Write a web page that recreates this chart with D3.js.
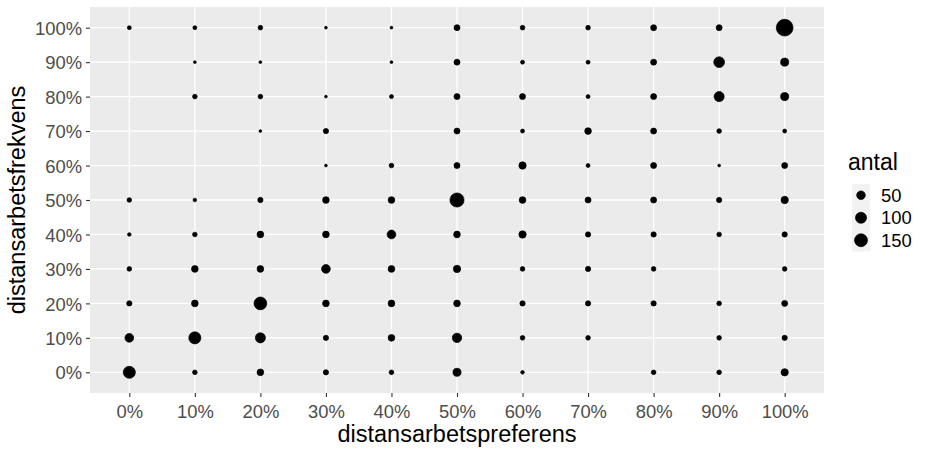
<!DOCTYPE html>
<html>
<head>
<meta charset="utf-8">
<script src="https://cdn.jsdelivr.net/npm/d3@7"></script>
<style>
  body { margin: 0; background: #fff; }
  text { font-family: "Liberation Sans", Arial, sans-serif; }
</style>
</head>
<body>
<div id="viz"></div>
<script>
// Categories (both axes are discrete factors)
const preferens = ['0%', '10%', '20%', '30%', '40%', '50%', '60%', '70%', '80%', '90%', '100%'];
const frekvens = ['0%', '10%', '20%', '30%', '40%', '50%', '60%', '70%', '80%', '90%', '100%'];

// antal per frekvens row (top row = 100%), one value per preferens column; 0 = no point
const antalRows = ['100%', '90%', '80%', '70%', '60%', '50%', '40%', '30%', '20%', '10%', '0%'];
const antal = [
  [3, 3, 6, 1, 1, 16, 6, 6, 16, 16, 285],
  [0, 1, 1, 0, 1, 16, 3, 3, 16, 92, 41],
  [0, 6, 6, 1, 3, 16, 16, 3, 16, 77, 41],
  [0, 0, 1, 10, 0, 16, 3, 23, 16, 6, 3],
  [0, 0, 0, 1, 6, 16, 31, 3, 16, 1, 16],
  [6, 2, 10, 23, 23, 186, 23, 16, 16, 10, 31],
  [2, 6, 23, 23, 52, 23, 31, 10, 10, 6, 10],
  [6, 23, 23, 52, 23, 31, 6, 10, 6, 0, 6],
  [10, 23, 145, 23, 23, 23, 10, 10, 10, 6, 16],
  [52, 126, 77, 10, 23, 64, 6, 6, 0, 6, 10],
  [126, 6, 23, 10, 6, 41, 2, 0, 6, 6, 31]
];

const legendBreaks = [50, 100, 150];

const width = 930;
const height = 454;
const panel = {left: 90, right: 824, top: 7, bottom: 393};

// flatten to points
const points = [];
antal.forEach((row, i) => {
  row.forEach((n, j) => {
    if (n > 0) points.push({frekvens: antalRows[i], preferens: preferens[j], antal: n});
  });
});

// Scales
const x = d3.scalePoint()
  .domain(preferens)
  .range([panel.left, panel.right])
  .padding(0.6);
const y = d3.scalePoint()
  .domain(frekvens)
  .range([panel.bottom, panel.top])
  .padding(0.6);

// ggplot-like area scale: radius linear in sqrt of rescaled value
const extent = d3.extent(points, d => d.antal);
const rescale = d3.scaleLinear().domain(extent).range([0, 1]);
const radius = d3.scaleLinear().domain([0, 1]).range([1.4, 8.4]);
const r = v => radius(Math.sqrt(Math.max(0, rescale(v))));

const svg = d3.select('#viz')
  .append('svg')
    .attr('width', width)
    .attr('height', height)
    .attr('viewBox', `0 0 ${width} ${height}`);

// Panel background
svg.append('rect')
  .attr('x', panel.left)
  .attr('y', panel.top)
  .attr('width', panel.right - panel.left)
  .attr('height', panel.bottom - panel.top)
  .attr('fill', '#EBEBEB');

// Grid lines
svg.append('g')
    .attr('class', 'grid-x')
  .selectAll('line')
  .data(preferens)
  .join('line')
    .attr('x1', d => x(d))
    .attr('x2', d => x(d))
    .attr('y1', panel.top)
    .attr('y2', panel.bottom)
    .attr('stroke', '#fff')
    .attr('stroke-width', 1.3);

svg.append('g')
    .attr('class', 'grid-y')
  .selectAll('line')
  .data(frekvens)
  .join('line')
    .attr('x1', panel.left)
    .attr('x2', panel.right)
    .attr('y1', d => y(d))
    .attr('y2', d => y(d))
    .attr('stroke', '#fff')
    .attr('stroke-width', 1.3);

// Axes
const xAxis = svg.append('g')
  .attr('transform', `translate(0, ${panel.bottom})`)
  .call(d3.axisBottom(x).tickSize(4).tickPadding(4));
const yAxis = svg.append('g')
  .attr('transform', `translate(${panel.left}, 0)`)
  .call(d3.axisLeft(y).tickSize(4).tickPadding(4));

[xAxis, yAxis].forEach(ax => {
  ax.select('.domain').remove();
  ax.selectAll('.tick line').attr('stroke', '#333333').attr('stroke-width', 1.1);
  ax.selectAll('.tick text')
    .attr('fill', '#4D4D4D')
    .style('font-size', '18.4px')
    .style('font-family', '"Liberation Sans", Arial, sans-serif');
});
xAxis.selectAll('.tick text').attr('dy', '0.95em');
yAxis.selectAll('.tick text').attr('dy', '0.36em');

// Axis titles
svg.append('text')
  .attr('x', (panel.left + panel.right) / 2)
  .attr('y', 442)
  .attr('text-anchor', 'middle')
  .style('font-size', '23.5px')
  .text('distansarbetspreferens');

svg.append('text')
  .attr('transform', `translate(25, ${(panel.top + panel.bottom) / 2}) rotate(-90)`)
  .attr('text-anchor', 'middle')
  .style('font-size', '23.5px')
  .text('distansarbetsfrekvens');

// Points (thin outline like ggplot's default point stroke)
svg.append('g')
    .attr('class', 'points')
  .selectAll('circle')
  .data(points)
  .join('circle')
    .attr('cx', d => x(d.preferens))
    .attr('cy', d => y(d.frekvens))
    .attr('r', d => r(d.antal))
    .attr('fill', '#000')
    .attr('stroke', '#000')
    .attr('stroke-width', 0.7);

// Legend
const legend = svg.append('g')
  .attr('class', 'legend')
  .attr('transform', 'translate(848, 0)');

legend.append('text')
  .attr('x', 0)
  .attr('y', 170)
  .style('font-size', '23px')
  .text('antal');

const keyH = 22.5;
const keyTop = 184;
legend.append('rect')
  .attr('x', 4)
  .attr('y', keyTop)
  .attr('width', 18)
  .attr('height', keyH * legendBreaks.length)
  .attr('fill', '#F2F2F2');

const keys = legend.selectAll('.key')
  .data(legendBreaks)
  .join('g')
    .attr('class', 'key')
    .attr('transform', (d, i) => `translate(0, ${keyTop + keyH * i + keyH / 2})`);

keys.append('circle')
  .attr('cx', 13)
  .attr('cy', 0)
  .attr('r', d => r(d))
  .attr('fill', '#000')
  .attr('stroke', '#000')
  .attr('stroke-width', 0.7);

keys.append('text')
  .attr('x', 33)
  .attr('y', 0)
  .attr('dy', '0.36em')
  .style('font-size', '18.4px')
  .text(d => d);
</script>
</body>
</html>
